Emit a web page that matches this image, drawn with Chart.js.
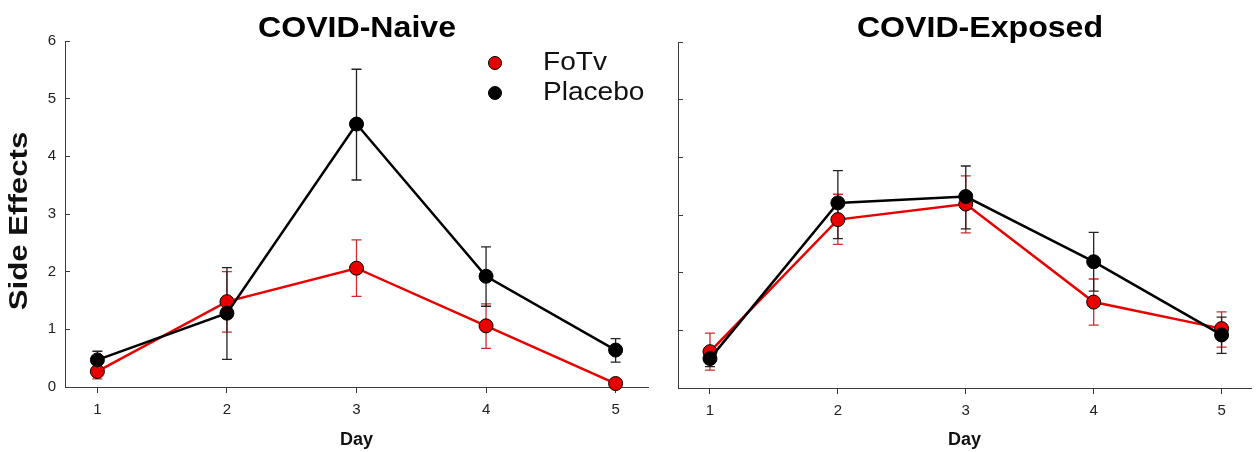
<!DOCTYPE html>
<html>
<head>
<meta charset="utf-8">
<script src="https://cdn.jsdelivr.net/npm/chart.js@4/dist/chart.umd.min.js"></script>
<style>
    body { margin: 0; background: #fff; width: 1259px; height: 452px; overflow: hidden; position: relative; }
    .panel { position: absolute; top: 0; height: 452px; }
    #left { left: 0; width: 660px; }
    #right { left: 660px; width: 599px; }
</style>
</head>
<body>
<div class="panel" id="left"><canvas id="naive"></canvas></div>
<div class="panel" id="right"><canvas id="exposed"></canvas></div>
<script>
// Days on the x axis and y ticks
const days = [1, 2, 3, 4, 5];
const yTicks = [0, 1, 2, 3, 4, 5, 6];

// COVID-Naive
const naiveFoTv = [0.27, 1.48, 2.06, 1.06, 0.06];
const naiveFoTvLow = [0.14, 0.95, 1.57, 0.67, 0.04];
const naiveFoTvHigh = [0.40, 2.00, 2.55, 1.44, 0.08];
const naivePlacebo = [0.47, 1.28, 4.56, 1.92, 0.64];
const naivePlaceboLow = [0.32, 0.48, 3.59, 1.40, 0.43];
const naivePlaceboHigh = [0.62, 2.07, 5.51, 2.43, 0.84];

// COVID-Exposed
const exposedFoTv = [0.63, 2.92, 3.19, 1.49, 1.03];
const exposedFoTvLow = [0.31, 2.49, 2.69, 1.09, 0.71];
const exposedFoTvHigh = [0.95, 3.36, 3.68, 1.89, 1.32];
const exposedPlacebo = [0.51, 3.21, 3.32, 2.19, 0.92];
const exposedPlaceboLow = [0.37, 2.59, 2.76, 1.68, 0.60];
const exposedPlaceboHigh = [0.65, 3.77, 3.85, 2.70, 1.23];

const RED = 'rgb(232, 0, 0)';
const RED_ERR = 'rgb(205, 45, 45)';
const AXIS = '#3a3a3a';
const FONT = "'Liberation Sans', Arial, sans-serif";

function points(values) {
    return days.map((d, i) => ({ x: d, y: values[i] }));
}

function makeDataset(label, values, low, high, color, errColor, order) {
    return {
        label: label,
        data: points(values),
        lower: low,
        upper: high,
        errColor: errColor,
        order: order,
        borderColor: color,
        borderWidth: 2.5,
        backgroundColor: color,
        pointBackgroundColor: color,
        pointBorderColor: '#000',
        pointBorderWidth: 1,
        pointRadius: 7,
        tension: 0,
        clip: false
    };
}

// Error bars drawn under the lines and markers
const errorBars = {
    id: 'errorBars',
    beforeDatasetsDraw(chart) {
        const { ctx, scales: { x, y } } = chart;
        chart.data.datasets.forEach(ds => {
            ctx.save();
            ctx.strokeStyle = ds.errColor;
            ctx.lineWidth = 1.3;
            ds.data.forEach((p, i) => {
                const px = x.getPixelForValue(p.x);
                const lo = y.getPixelForValue(ds.lower[i]);
                const hi = y.getPixelForValue(ds.upper[i]);
                ctx.beginPath();
                ctx.moveTo(px, lo); ctx.lineTo(px, hi);
                ctx.moveTo(px - 5, lo); ctx.lineTo(px + 5, lo);
                ctx.moveTo(px - 5, hi); ctx.lineTo(px + 5, hi);
                ctx.stroke();
            });
            ctx.restore();
        });
    }
};

// Panel title and y title, drawn as canvas text (stretched a little like the original figure)
const panelText = {
    id: 'panelText',
    afterDraw(chart, args, opts) {
        const ctx = chart.ctx;
        ctx.save();
        ctx.font = `bold 30px ${FONT}`;
        ctx.fillStyle = '#000';
        ctx.textAlign = 'center';
        ctx.textBaseline = 'alphabetic';
        ctx.translate(opts.x, 37);
        ctx.scale(1.07, 1);
        ctx.fillText(opts.text, 0, 0);
        ctx.restore();

        if (opts.yTitle) {
            ctx.save();
            ctx.font = `bold 26px ${FONT}`;
            ctx.fillStyle = '#111';
            ctx.textAlign = 'center';
            ctx.textBaseline = 'middle';
            ctx.translate(20, 221);
            ctx.rotate(-Math.PI / 2);
            ctx.scale(1.2, 1);
            ctx.fillText(opts.yTitle, 0, 0);
            ctx.restore();
        }
    }
};

// Legend inside the left panel
const insideLegend = {
    id: 'insideLegend',
    afterDraw(chart, args, opts) {
        if (!opts.show) return;
        const ctx = chart.ctx;
        ['FoTv', 'Placebo'].forEach((name, i) => {
            const ds = chart.data.datasets.find(d => d.label === name);
            const y = 63 + i * 30;
            ctx.save();
            ctx.beginPath();
            ctx.arc(495, y, 6.5, 0, Math.PI * 2);
            ctx.fillStyle = ds.pointBackgroundColor;
            ctx.fill();
            ctx.lineWidth = 1;
            ctx.strokeStyle = '#000';
            ctx.stroke();
            ctx.font = `26px ${FONT}`;
            ctx.fillStyle = '#111';
            ctx.textBaseline = 'middle';
            ctx.translate(543, y);
            ctx.scale(1.08, 1);
            ctx.fillText(name, 0, 0);
            ctx.restore();
        });
    }
};

function buildChart(canvasId, sets, cfg) {
    return new Chart(document.getElementById(canvasId), {
        type: 'line',
        data: { datasets: sets },
        plugins: [errorBars, panelText, insideLegend],
        options: {
            responsive: true,
            maintainAspectRatio: false,
            animation: false,
            layout: { padding: { top: cfg.top, right: cfg.right, bottom: 0, left: 0 } },
            plugins: {
                legend: { display: false },
                tooltip: { enabled: false },
                panelText: { text: cfg.title, x: cfg.titleX, yTitle: cfg.yTitle },
                insideLegend: { show: cfg.legend }
            },
            scales: {
                x: {
                    type: 'linear',
                    min: 0.75,
                    max: cfg.xMax,
                    afterBuildTicks: s => { s.ticks = days.map(v => ({ value: v })); },
                    afterFit: s => { s.height = cfg.xHeight; },
                    grid: { drawOnChartArea: false, tickLength: 6, color: AXIS },
                    border: { color: AXIS, width: 1 },
                    ticks: { font: { family: FONT, size: 15 }, color: '#222', padding: 8 },
                    title: {
                        display: true, text: 'Day', color: '#111',
                        font: { family: FONT, size: 18, weight: 'bold' },
                        padding: { top: 0, bottom: 1 }
                    }
                },
                y: {
                    min: 0,
                    max: 6,
                    afterBuildTicks: s => { s.ticks = yTicks.map(v => ({ value: v })); },
                    afterFit: s => { s.width = cfg.yWidth; },
                    grid: { drawOnChartArea: false, tickLength: -5, color: AXIS },
                    border: { color: AXIS, width: 1 },
                    ticks: { display: cfg.yLabels, font: { family: FONT, size: 15 }, color: '#222', padding: 14 }
                }
            }
        }
    });
}

document.addEventListener('DOMContentLoaded', () => {
    buildChart('naive', [
        makeDataset('FoTv', naiveFoTv, naiveFoTvLow, naiveFoTvHigh, RED, RED_ERR, 1),
        makeDataset('Placebo', naivePlacebo, naivePlaceboLow, naivePlaceboHigh, '#000', '#222', 0)
    ], { top: 41, right: 12, xHeight: 65, yWidth: 65, xMax: 5.25, yLabels: true,
         title: 'COVID-Naive', titleX: 357, yTitle: 'Side Effects', legend: true });

    buildChart('exposed', [
        makeDataset('FoTv', exposedFoTv, exposedFoTvLow, exposedFoTvHigh, RED, RED_ERR, 1),
        makeDataset('Placebo', exposedPlacebo, exposedPlaceboLow, exposedPlaceboHigh, '#000', '#222', 0)
    ], { top: 42, right: 0, xHeight: 64, yWidth: 18, xMax: 5.23, yLabels: false,
         title: 'COVID-Exposed', titleX: 320, yTitle: null, legend: false });
});
</script>
</body>
</html>
